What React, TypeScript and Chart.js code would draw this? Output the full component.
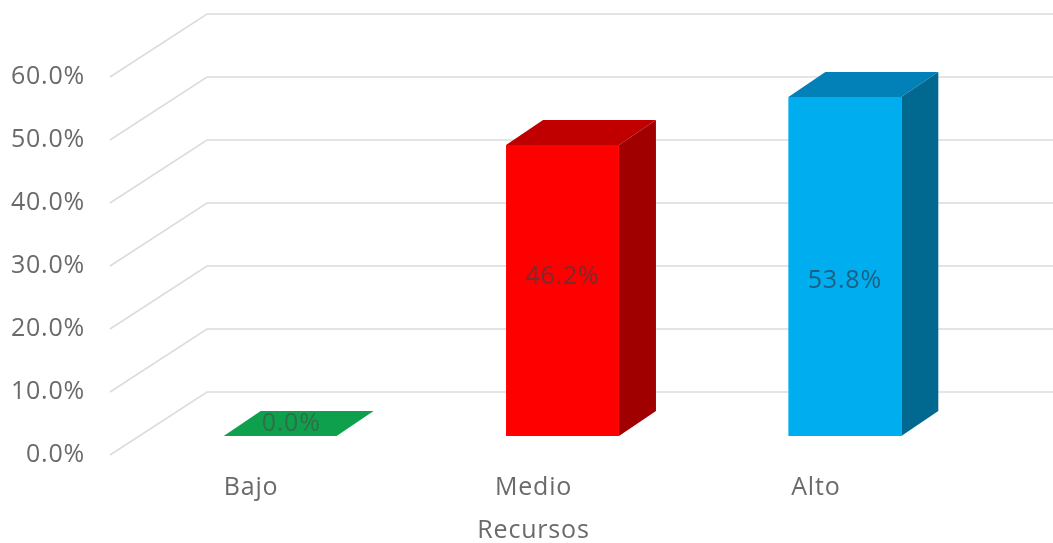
import { useEffect, useRef } from "react";
import { Chart, registerables } from "chart.js";

Chart.register(...registerables);

const categories = ["Bajo", "Medio", "Alto"];
const shares = [0.0, 46.2, 53.8];
const frontColors = ["#00a650", "#ff0000", "#00aeef"];
const topColors = ["#0fa04e", "#c00000", "#0280b8"];
const sideColors = ["#0a7a3a", "#a00000", "#01688f"];
const labelColors = ["#2f6f4a", "#7a2a30", "#1c5f85"];
const labelLift = [12, 14, -14];
const axisTicks = [0, 10, 20, 30, 40, 50, 60];
const axisTitle = "Recursos";

const FONT = '"Open Sans", "Noto Sans", sans-serif';
const TEXT_SIZE = 25;
const TEXT_TRACKING = "0.8px";
const GRID = "#dcdcdc";

// Receding offsets of the 3D box: the full wall depth and the depth of a bar.
const WALL_DX = 97;
const WALL_DY = -63;
const BAR_DX = 37;
const BAR_DY = -25;
// Bars stand in the middle of the floor, ahead of the axis plane.
const BAR_SHIFT_X = 29;
const BAR_SHIFT_Y = -19;

const walls = {
  id: "walls",
  beforeLayout(chart: any) {
    chart.ctx.letterSpacing = TEXT_TRACKING;
  },
  beforeDraw(chart: any) {
    chart.ctx.letterSpacing = TEXT_TRACKING;
  },
  beforeDatasetsDraw(chart: any) {
    const { ctx, chartArea, scales } = chart;
    ctx.save();
    ctx.strokeStyle = GRID;
    ctx.lineWidth = 1.6;
    for (const t of axisTicks) {
      const y = scales.y.getPixelForValue(t);
      ctx.beginPath();
      ctx.moveTo(chartArea.left, y);
      ctx.lineTo(chartArea.left + WALL_DX, y + WALL_DY);
      ctx.lineTo(chartArea.right + WALL_DX, y + WALL_DY);
      ctx.stroke();
    }
    ctx.restore();
    // Native bars are drawn inside this translation; released in afterDatasetsDraw.
    ctx.save();
    ctx.translate(BAR_SHIFT_X, BAR_SHIFT_Y);
    chart.getDatasetMeta(0).data.forEach((bar: any, i: number) => {
      const left = bar.x - bar.width / 2;
      const right = bar.x + bar.width / 2;
      const top = bar.y;
      const base = bar.base;
      ctx.fillStyle = topColors[i];
      ctx.beginPath();
      ctx.moveTo(left, top);
      ctx.lineTo(right, top);
      ctx.lineTo(right + BAR_DX, top + BAR_DY);
      ctx.lineTo(left + BAR_DX, top + BAR_DY);
      ctx.closePath();
      ctx.fill();
      if (base - top > 1) {
        ctx.fillStyle = sideColors[i];
        ctx.beginPath();
        ctx.moveTo(right, top);
        ctx.lineTo(right + BAR_DX, top + BAR_DY);
        ctx.lineTo(right + BAR_DX, base + BAR_DY);
        ctx.lineTo(right, base);
        ctx.closePath();
        ctx.fill();
      }
    });
  },
  afterDatasetsDraw(chart: any) {
    const { ctx } = chart;
    ctx.restore();
    ctx.save();
    ctx.font = `${TEXT_SIZE}px ${FONT}`;
    ctx.textAlign = "center";
    ctx.textBaseline = "middle";
    chart.getDatasetMeta(0).data.forEach((bar: any, i: number) => {
      const mid = (bar.y + bar.base) / 2;
      ctx.fillStyle = labelColors[i];
      ctx.fillText(
        `${shares[i].toFixed(1)}%`,
        bar.x + BAR_SHIFT_X + (i === 0 ? 11 : 0),
        mid + BAR_SHIFT_Y - labelLift[i]
      );
    });
    ctx.restore();
  },
};

export default function App() {
  const ref = useRef<HTMLCanvasElement>(null);

  useEffect(() => {
    document.body.style.margin = "0";
    document.body.style.background = "#ffffff";
    const chart = new Chart(ref.current!, {
      type: "bar",
      data: {
        labels: categories,
        datasets: [
          {
            data: shares,
            backgroundColor: frontColors,
            borderWidth: 0,
            barPercentage: 0.4,
            categoryPercentage: 1,
          },
        ],
      },
      options: {
        animation: false,
        responsive: false,
        layout: { padding: { top: 77, right: 96, left: 0, bottom: 0 } },
        plugins: { legend: { display: false }, tooltip: { enabled: false } },
        scales: {
          x: {
            grid: { display: false },
            border: { display: false },
            ticks: {
              color: "#6a6a6a",
              font: { family: FONT, size: TEXT_SIZE },
              padding: 10,
              maxRotation: 0,
            },
            title: {
              display: true,
              text: axisTitle,
              color: "#6a6a6a",
              font: { family: FONT, size: TEXT_SIZE },
              padding: { top: 3, bottom: -3 },
            },
            afterFit(scale: any) {
              scale.height = 88;
            },
          },
          y: {
            min: 0,
            max: 60,
            grid: { display: false },
            border: { display: false },
            ticks: {
              stepSize: 10,
              color: "#6a6a6a",
              font: { family: FONT, size: TEXT_SIZE },
              padding: 17,
              callback: (v: any) => `${Number(v).toFixed(1)}%`,
            },
            afterFit(scale: any) {
              scale.width = 110;
            },
          },
        },
      },
      plugins: [walls],
    });
    return () => chart.destroy();
  }, []);

  return <canvas ref={ref} width={1053} height={543} style={{ display: "block" }} />;
}
